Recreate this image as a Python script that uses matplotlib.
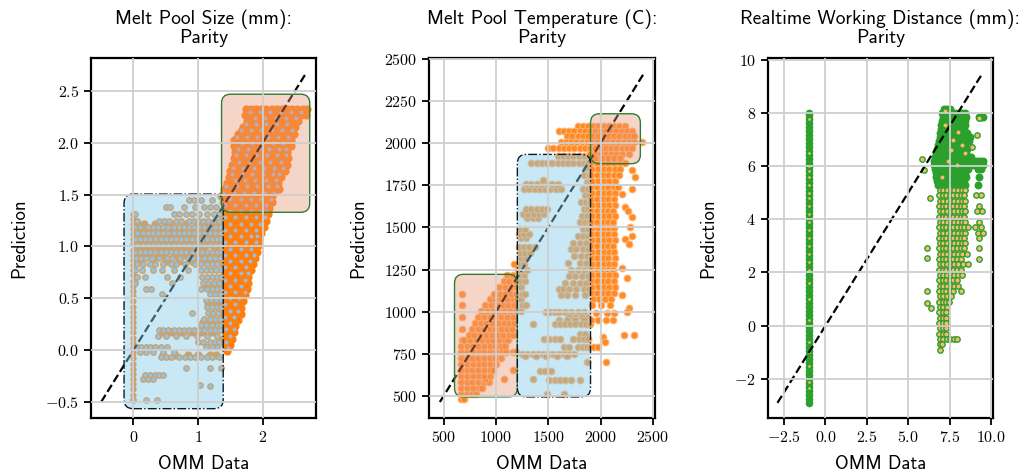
import matplotlib.pyplot as plt
from matplotlib.patches import FancyBboxPatch
from matplotlib.colors import to_rgba
from matplotlib.ticker import FixedLocator, FuncFormatter

# ---------------- Melt Pool Size (mm) ----------------
size_line = [-0.5, 2.66]
size_xticks = [0, 1, 2]
size_yticks = [-0.5, 0.0, 0.5, 1.0, 1.5, 2.0, 2.5]

# solid orange points (full data)
size_full_rows = [
    (2.33, [1.74, 1.82, 1.90, 1.98, 2.06, 2.14, 2.22, 2.30, 2.38, 2.46, 2.54, 2.62, 2.69]),
    (2.27, [1.72, 1.80, 1.88, 1.96, 2.04, 2.12, 2.20, 2.28, 2.36, 2.44, 2.52, 2.60, 2.67]),
    (2.21, [1.76, 1.84, 1.92, 2.00, 2.08, 2.16, 2.24, 2.32, 2.40, 2.48, 2.55]),
    (2.15, [1.70, 1.78, 1.86, 1.94, 2.02, 2.10, 2.18, 2.26, 2.34, 2.42, 2.50]),
    (2.09, [1.62, 1.70, 1.78, 1.86, 1.94, 2.02, 2.10, 2.18, 2.26, 2.34, 2.42, 2.48]),
    (2.03, [1.56, 1.64, 1.72, 1.80, 1.88, 1.96, 2.04, 2.12, 2.20, 2.28, 2.36, 2.44]),
    (1.97, [1.55, 1.63, 1.71, 1.79, 1.87, 1.95, 2.03, 2.11, 2.19, 2.27, 2.35, 2.44]),
    (1.91, [1.58, 1.66, 1.74, 1.82, 1.90, 1.98, 2.06, 2.14, 2.22, 2.30, 2.38]),
    (1.85, [1.55, 1.63, 1.71, 1.79, 1.87, 1.95, 2.03, 2.11, 2.19, 2.27, 2.35, 2.40]),
    (1.79, [1.52, 1.60, 1.68, 1.76, 1.84, 1.92, 2.00, 2.08, 2.16, 2.24, 2.32, 2.38]),
    (1.73, [1.50, 1.58, 1.66, 1.74, 1.82, 1.90, 1.98, 2.06, 2.14, 2.22, 2.30, 2.35]),
    (1.67, [1.48, 1.56, 1.64, 1.72, 1.80, 1.88, 1.96, 2.04, 2.12, 2.20, 2.28]),
    (1.61, [1.45, 1.53, 1.61, 1.69, 1.77, 1.85, 1.93, 2.01, 2.09, 2.17, 2.24]),
    (1.55, [1.40, 1.48, 1.56, 1.64, 1.72, 1.80, 1.88, 1.96, 2.04, 2.12, 2.20, 2.25]),
    (1.49, [1.35, 1.43, 1.51, 1.59, 1.67, 1.75, 1.83, 1.91, 1.99, 2.07, 2.15]),
    (1.43, [1.38, 1.46, 1.54, 1.62, 1.70, 1.78, 1.86, 1.94, 2.02, 2.10, 2.15]),
    (1.37, [1.42, 1.50, 1.58, 1.66, 1.74, 1.82, 1.90, 1.98, 2.06, 2.10]),
    (1.31, [1.38, 1.46, 1.54, 1.62, 1.70, 1.78, 1.86, 1.94, 2.02, 2.08]),
    (1.25, [1.42, 1.50, 1.58, 1.66, 1.74, 1.82, 1.90, 1.98, 2.06]),
    (1.19, [1.38, 1.46, 1.54, 1.62, 1.70, 1.78, 1.86, 1.94, 2.02]),
    (1.13, [1.42, 1.50, 1.58, 1.66, 1.74, 1.82, 1.90, 1.98]),
    (1.07, [1.38, 1.46, 1.54, 1.62, 1.70, 1.78, 1.86, 1.94]),
    (1.01, [1.42, 1.50, 1.58, 1.66, 1.74, 1.82, 1.90, 1.95]),
    (0.95, [1.38, 1.46, 1.54, 1.62, 1.70, 1.78, 1.86, 1.92]),
    (0.89, [1.42, 1.50, 1.58, 1.66, 1.74, 1.82, 1.88]),
    (0.83, [1.38, 1.46, 1.54, 1.62, 1.70, 1.78, 1.85]),
    (0.77, [1.42, 1.50, 1.58, 1.66, 1.74, 1.82]),
    (0.71, [1.38, 1.46, 1.54, 1.62, 1.70, 1.78]),
    (0.65, [1.42, 1.50, 1.58, 1.66, 1.74, 1.78]),
    (0.59, [1.38, 1.46, 1.54, 1.62, 1.70, 1.76]),
    (0.53, [1.42, 1.50, 1.58, 1.66, 1.73]),
    (0.47, [1.38, 1.46, 1.54, 1.62, 1.70]),
    (0.41, [1.42, 1.50, 1.58, 1.66]),
    (0.35, [1.38, 1.46, 1.54, 1.62, 1.66]),
    (0.29, [1.42, 1.50, 1.58, 1.62]),
    (0.23, [1.38, 1.46, 1.54, 1.58]),
    (0.17, [1.42, 1.50, 1.55]),
    (0.11, [1.38, 1.46, 1.52]),
    (0.05, [1.42, 1.49]),
    (-0.01, [1.45]),
    # dense band inside the low box
    (1.22, [0.07, 0.16, 0.34, 0.50, 0.58, 0.82, 0.98, 1.06, 1.14, 1.22, 1.30]),
    (1.16, [0.04, 0.12, 0.20, 0.28, 0.44, 0.60, 0.68, 0.76, 0.90, 1.00, 1.08, 1.24, 1.32]),
    (1.10, [0.06, 0.14, 0.22, 0.30, 0.38, 0.46, 0.54, 0.62, 0.70, 0.78, 0.86, 0.94, 1.02, 1.18, 1.34]),
    (1.04, [0.04, 0.12, 0.20, 0.28, 0.36, 0.44, 0.52, 0.60, 0.68, 0.76, 0.84, 0.92, 1.00, 1.16, 1.30]),
    (0.98, [0.06, 0.14, 0.22, 0.30, 0.38, 0.46, 0.54, 0.62, 0.70, 0.78, 0.86, 0.94, 1.02, 1.10, 1.26]),
    (0.92, [0.08, 0.16, 0.24, 0.36, 0.48, 0.64, 0.78, 0.88, 0.96, 1.06, 1.14, 1.22, 1.30]),
    (0.86, [0.10, 0.30, 0.50, 0.70, 0.90, 1.10, 1.18, 1.26, 1.34]),
    (0.62, [1.12, 1.20, 1.28, 1.35]),
    (0.45, [1.16, 1.24, 1.32]),
    (0.27, [1.08, 1.16, 1.24, 1.32]),
    (0.17, [0.44, 0.58, 0.74, 0.90, 1.06, 1.22]),
    (-0.05, [0.46, 0.64, 0.84, 1.00, 1.18, 1.28]),
]
size_col_x = 0.0
size_col_y = [-0.48, -0.43, -0.38, -0.33, -0.28, -0.23, -0.18, -0.13, -0.08, -0.03,
              0.02, 0.07, 0.12, 0.17, 0.22, 0.27, 0.32, 0.37, 0.42, 0.47, 0.52,
              0.57, 0.62, 0.67, 0.72, 0.77, 0.82, 0.87, 0.92, 0.97, 1.02, 1.07,
              1.12, 1.17, 1.22, 1.27, 1.31]

# light blue points with orange rim (subset)
size_sample_rows = [
    (2.30, [1.80, 1.96, 2.12, 2.28, 2.44, 2.60]),
    (2.24, [1.88, 2.04, 2.20, 2.36, 2.52]),
    (2.18, [1.74, 1.90, 2.06, 2.22, 2.38]),
    (2.12, [1.66, 1.82, 1.98, 2.14, 2.30, 2.46]),
    (2.06, [1.60, 1.76, 1.92, 2.08, 2.24, 2.40]),
    (2.00, [1.68, 1.84, 2.00, 2.16, 2.32]),
    (1.94, [1.62, 1.78, 1.94, 2.10, 2.26, 2.36]),
    (1.88, [1.59, 1.75, 1.91, 2.07, 2.23, 2.37]),
    (1.82, [1.64, 1.80, 1.96, 2.12, 2.28]),
    (1.76, [1.54, 1.70, 1.86, 2.02, 2.18, 2.32]),
    (1.70, [1.52, 1.68, 1.84, 2.00, 2.16, 2.26]),
    (1.64, [1.57, 1.73, 1.89, 2.05, 2.21]),
    (1.58, [1.44, 1.60, 1.76, 1.92, 2.08, 2.22]),
    (1.52, [1.39, 1.55, 1.71, 1.87, 2.03, 2.17]),
    (1.46, [1.50, 1.66, 1.82, 1.98, 2.13]),
    (1.40, [1.42, 1.58, 1.74, 1.90, 2.06]),
    (1.34, [1.50, 1.66, 1.82, 1.98, 2.06]),
    (1.28, [1.42, 1.58, 1.74, 1.90, 2.04]),
    (1.22, [1.50, 1.66, 1.82, 1.96]),
    (1.16, [1.42, 1.58, 1.74, 1.90]),
    (1.10, [1.50, 1.66, 1.82, 1.92]),
    (1.04, [1.42, 1.58, 1.74, 1.90]),
    (0.98, [1.50, 1.66, 1.82]),
    (0.92, [1.42, 1.58, 1.74, 1.86]),
    (0.86, [1.50, 1.66, 1.80]),
    (0.80, [1.42, 1.58, 1.74]),
    (0.74, [1.50, 1.66, 1.78]),
    (0.68, [1.42, 1.58, 1.72]),
    (0.62, [1.50, 1.66]),
    (0.56, [1.42, 1.58, 1.72]),
    (0.50, [1.50, 1.64]),
    (0.44, [1.42, 1.58]),
    (0.38, [1.50, 1.62]),
    (0.32, [1.42, 1.56]),
    (0.26, [1.50]),
    (0.20, [1.44, 1.56]),
    (0.14, [1.50]),
    (0.08, [1.44]),
    (0.02, [1.47]),
    (1.45, [0.86, 0.93, 1.05, 1.22]),
    (1.38, [0.50, 0.57, 0.78, 0.95, 1.10, 1.18, 1.28]),
    (1.31, [0.02, 0.62, 0.70, 0.82, 0.90, 1.02, 1.14, 1.24, 1.33]),
    (1.25, [0.05, 0.40, 0.48, 0.55, 0.66, 0.74, 0.86, 0.94, 1.00, 1.08, 1.16, 1.24, 1.32]),
    (1.19, [0.02, 0.10, 0.22, 0.30, 0.38, 0.46, 0.54, 0.62, 0.70, 0.78, 0.86, 0.94, 1.02, 1.10, 1.18, 1.26, 1.34]),
    (1.13, [0.06, 0.14, 0.22, 0.30, 0.38, 0.46, 0.54, 0.62, 0.70, 0.78, 0.86, 0.94, 1.02, 1.10, 1.18, 1.26, 1.34]),
    (1.07, [0.02, 0.10, 0.18, 0.26, 0.34, 0.42, 0.50, 0.58, 0.66, 0.74, 0.82, 0.90, 0.98, 1.06, 1.14, 1.22, 1.30, 1.36]),
    (1.01, [0.06, 0.14, 0.22, 0.30, 0.38, 0.46, 0.54, 0.62, 0.70, 0.78, 0.86, 0.94, 1.02, 1.10, 1.18, 1.26, 1.34]),
    (0.95, [0.02, 0.10, 0.18, 0.26, 0.34, 0.42, 0.50, 0.58, 0.66, 0.74, 0.82, 0.90, 0.98, 1.06, 1.14, 1.22, 1.30, 1.36]),
    (0.89, [0.04, 0.12, 0.20, 0.28, 0.40, 0.52, 0.60, 0.72, 0.84, 0.92, 1.00, 1.10, 1.18, 1.26, 1.34]),
    (0.83, [0.06, 0.14, 0.26, 0.34, 0.46, 0.58, 0.66, 0.80, 0.95, 1.05, 1.14, 1.22, 1.30]),
    (0.77, [0.02, 0.13, 0.30, 0.44, 0.62, 0.85, 1.04, 1.12, 1.20, 1.28, 1.35]),
    (0.71, [0.06, 0.18, 0.52, 0.72, 1.06, 1.14, 1.22, 1.30, 1.36]),
    (0.65, [0.02, 0.60, 1.08, 1.16, 1.24, 1.32]),
    (0.59, [0.20, 0.27, 1.04, 1.14, 1.22, 1.30, 1.36]),
    (0.54, [0.44, 1.18, 1.26, 1.34]),
    (0.48, [1.12, 1.20, 1.28, 1.35]),
    (0.42, [1.14, 1.22, 1.30, 1.36]),
    (0.36, [0.90, 1.15, 1.23, 1.31]),
    (0.30, [1.10, 1.18, 1.26, 1.34]),
    (0.24, [1.05, 1.13, 1.21, 1.29, 1.36]),
    (0.19, [0.40, 0.46, 0.54, 0.62, 0.70, 0.78, 0.86, 0.94, 1.02, 1.10, 1.18, 1.26, 1.34]),
    (0.14, [0.38, 0.50, 0.66, 0.82, 0.98, 1.14, 1.30]),
    (0.08, [1.00, 1.08, 1.18, 1.26, 1.32]),
    (0.03, [0.05, 0.12, 0.19, 0.26, 0.34, 0.42, 0.52, 1.12, 1.22, 1.30]),
    (-0.02, [0.10, 0.20, 0.30, 0.45, 0.62]),
    (-0.07, [0.42, 0.50, 0.58, 0.70, 0.80, 0.88, 0.96, 1.04, 1.14, 1.22, 1.32]),
    (-0.17, [0.82, 1.18, 1.35]),
    (-0.24, [0.18, 0.26, 0.33, 0.40, 0.46]),
    (-0.28, [0.15, 0.22, 0.30]),
    (-0.34, [1.03]),
    (-0.35, [1.18]),
    (-0.48, [0.0, 0.20, 0.36]),
]

# ---------------- Melt Pool Temperature (C) ----------------
temp_line = [465, 2410]
temp_xticks = [500, 1000, 1500, 2000, 2500]
temp_yticks = [500, 750, 1000, 1250, 1500, 1750, 2000, 2250, 2500]

temp_rows = [
    # low diagonal band
    (480, [665, 700]),
    (515, [665, 720, 775, 810]),
    (550, [670, 725, 780, 835, 870]),
    (585, [665, 720, 775, 830, 885, 930]),
    (600, [900, 1080]),
    (620, [670, 725, 780, 835, 890, 940]),
    (655, [665, 720, 775, 830, 885, 940, 975, 1165]),
    (690, [670, 725, 780, 835, 890, 945, 1000]),
    (725, [665, 720, 775, 830, 885, 940, 995, 1050]),
    (760, [670, 725, 780, 835, 890, 945, 1000, 1055, 1100, 1160, 1190]),
    (795, [665, 720, 775, 830, 885, 940, 995, 1050, 1090]),
    (830, [675, 700, 755, 810, 865, 920, 975, 1030, 1085, 1120]),
    (865, [740, 795, 850, 905, 960, 1015, 1070, 1125, 1160]),
    (900, [675, 775, 830, 885, 940, 995, 1050, 1105, 1150]),
    (935, [800, 855, 910, 965, 1020, 1075, 1130, 1170]),
    (970, [675, 830, 885, 940, 995, 1050, 1105, 1160]),
    (1005, [860, 915, 970, 1025, 1080, 1135, 1190, 1240]),
    (1040, [675, 900, 955, 1010, 1065, 1120, 1175, 1250, 1290]),
    (1075, [940, 995, 1050, 1105, 1160, 1200, 1240]),
    (1105, [675, 980, 1035, 1090, 1145, 1195, 1245, 1280]),
    (1145, [1030, 1085, 1140, 1190, 1240]),
    (1180, [1075, 1130, 1180, 1235, 1275]),
    (1215, [1110, 1160, 1225, 1270]),
    (1250, [1215, 1260, 1300]),
    (1285, [1170, 1230, 1270]),
    # blue box strands
    (1320, [1240, 1290]),
    (1350, [1230, 1280, 1330]),
    (1385, [1220, 1270, 1320, 1370]),
    (1435, [1240, 1290]),
    (1460, [1220, 1270, 1320]),
    (1490, [1230, 1280]),
    (1555, [1300, 1350, 1400]),
    (1580, [1260, 1310, 1360, 1410, 1460]),
    (1610, [1290, 1340, 1390, 1440, 1490]),
    (1725, [1270, 1320, 1370, 1420, 1470, 1520, 1570, 1620]),
    (1755, [1290, 1340, 1390, 1440, 1490, 1540, 1590]),
    (1780, [1450]),
    (1885, [1340, 1390, 1440, 1490, 1540, 1590, 1640, 1690, 1740, 1790, 1840, 1880]),
    (1925, [1590, 1640, 1690, 1740, 1790, 1840, 1890]),
    (1850, [1860, 1890]),
    (1810, [1845, 1885]),
    (1770, [1870, 1895]),
    (1730, [1830, 1880]),
    (1690, [1850, 1890]),
    (1650, [1810, 1860, 1895]),
    (1610, [1840, 1880]),
    (1570, [1820, 1870]),
    (1530, [1800, 1850, 1890]),
    (1490, [1830, 1880]),
    (1450, [1780, 1830, 1880]),
    (1410, [1740, 1800, 1860]),
    (1370, [1720, 1770, 1830, 1880]),
    (1330, [1750, 1810, 1870]),
    (1290, [1690, 1800, 1860]),
    (1250, [1720, 1780, 1840, 1890]),
    (1210, [1700, 1760, 1820, 1880]),
    (1170, [1660, 1740, 1800, 1860]),
    (1135, [1600, 1640, 1700, 1770, 1840, 1890]),
    (1100, [1620, 1680, 1760, 1850]),
    (1000, [1480, 1520, 1560, 1600, 1660, 1720, 1780, 1840]),
    (970, [1700, 1760, 1820, 1880]),
    (950, [1600, 1680, 1760, 1840]),
    (930, [1350, 1560, 1610, 1660, 1710, 1760, 1810, 1860, 1895]),
    (870, [1800, 1850]),
    (840, [1460, 1510, 1560, 1610, 1740, 1790, 1840, 1880]),
    (790, [1650, 1700, 1780, 1830, 1870]),
    (750, [1250, 1300, 1350, 1400, 1450, 1500, 1550, 1600, 1650, 1700, 1750]),
    (735, [1280, 1380, 1480, 1580, 1680]),
    (700, [1870]),
    (650, [1420, 1470, 1530]),
    (600, [1350]),
    (595, [1510, 1560, 1610, 1660, 1720, 1800]),
    (510, [1490, 1650]),
    # right dense region
    (1880, [1910, 1965, 2020, 2075, 2130, 2185]),
    (1845, [1920, 1975, 2030, 2085, 2140, 2190]),
    (1810, [1910, 1965, 2020, 2075, 2130, 2180]),
    (1775, [1920, 1975, 2030, 2085, 2140]),
    (1740, [1910, 1965, 2020, 2075, 2130, 2170]),
    (1705, [1920, 1975, 2030, 2085, 2140]),
    (1670, [1910, 1965, 2020, 2075, 2130]),
    (1635, [1920, 1975, 2030, 2085, 2140]),
    (1600, [1910, 1965, 2020, 2075, 2120]),
    (1565, [1920, 1975, 2030, 2085, 2135]),
    (1530, [1910, 1965, 2020, 2075, 2120]),
    (1495, [1920, 1975, 2030, 2085, 2130]),
    (1460, [1910, 1965, 2020, 2075, 2130]),
    (1425, [1920, 1975, 2030, 2085, 2140]),
    (1390, [1910, 1965, 2020, 2075, 2120]),
    (1355, [1920, 1975, 2030, 2085, 2130]),
    (1320, [1910, 1965, 2020, 2075, 2140]),
    (1285, [1920, 1975, 2030, 2085, 2130]),
    (1250, [1910, 1965, 2020, 2075, 2120]),
    (1215, [1920, 1975, 2030, 2085, 2140]),
    (1180, [1910, 1965, 2020, 2075, 2130]),
    (1145, [1920, 1975, 2030, 2085, 2140]),
    (1110, [1910, 1965, 2020, 2075, 2130]),
    (1075, [1930, 1985, 2040, 2095]),
    (1040, [1920, 2000, 2090]),
    (990, [1960, 2060, 2130]),
    (950, [1910, 1980, 2050, 2120]),
    # top bands
    (2100, [1780, 1830, 1880, 1930, 1980, 2030, 2080, 2130, 2180, 2230]),
    (2070, [1600, 1650, 1700, 1750, 1800, 1850, 1900, 1950, 2000, 2050, 2100, 2150, 2200, 2250, 2300]),
    (2040, [1680, 1730, 1780, 1830, 1880, 1930, 1980, 2030, 2080, 2130, 2180, 2230, 2280, 2320]),
    (2005, [1620, 1670, 1720, 1770, 1820, 1870, 1920, 1970, 2020, 2070, 2120, 2170, 2220, 2270, 2320, 2400]),
    (1970, [1500, 1550, 1600, 1650, 1700, 1750, 1800, 1850, 1900, 1950, 2000, 2050, 2100, 2150, 2200, 2250, 2300]),
    (1935, [1900, 1950, 2000, 2050, 2100, 2150, 2200, 2270]),
    (1910, [1950, 2010, 2070, 2130, 2190]),
    # scattered outliers on the right
    (1880, [2230]), (1840, [2300]), (1800, [2330]), (1730, [2300]), (1700, [2200]),
    (1620, [2230]), (1600, [2260]), (1560, [2300]), (1500, [2280]), (1450, [2300]),
    (1430, [2230]), (1400, [2270]), (1260, [2200]), (1200, [2250]), (1100, [2200]),
    (1020, [2270]), (1000, [2250]), (860, [2220, 2320]), (850, [2020]), (820, [2040]),
    (790, [1900, 1940, 1980]), (700, [2050]),
]

# ---------------- Realtime Working Distance (mm) ----------------
dist_line = [-2.9, 9.5]
dist_xticks = [-2.5, 0.0, 2.5, 5.0, 7.5, 10.0]
dist_yticks = [-2, 0, 2, 4, 6, 8, 10]

dist_col_x = -1.0
dist_col_y = [-2.9, -2.75, -2.6, -2.45, -2.3, -2.15, -2.0, -1.85, -1.7, -1.55, -1.4,
              -1.25, -1.1, -0.95, -0.8, -0.65, -0.5, -0.35, -0.2, -0.05, 0.1, 0.25,
              0.4, 0.55, 0.7, 0.85, 1.0, 1.15, 1.3, 1.45, 1.6, 1.75, 1.9, 2.05, 2.2,
              2.35, 2.5, 2.65, 2.8, 2.95, 3.1, 3.25, 3.4, 3.55, 3.7, 3.85, 4.0, 4.15,
              4.3, 4.45, 4.6, 4.75, 4.9, 5.05, 5.2, 5.35, 5.5, 5.65, 5.8, 5.95, 6.1,
              6.25, 6.4, 6.55, 6.7, 6.85, 7.0, 7.15, 7.3, 7.45, 7.6, 7.75, 7.9, 8.0]
dist_col_sample_y = [7.75, 6.5, 6.0, 5.8, 5.6, 5.3, 5.0, 4.8, 4.5, 4.2, 3.9, 3.6, 3.3,
                     3.0, 2.7, 2.4, 2.1, 1.6, 1.0, 0.2, -0.6, -1.0, -1.5, -2.1, -2.35]

# solid green points (full data)
dist_full_rows = [
    (8.15, [7.15, 7.35, 7.55]),
    (8.00, [7.05, 7.25, 7.45, 7.65, 7.85, 8.05, 8.25, 8.45]),
    (7.85, [7.10, 7.30, 7.50, 7.70, 7.90, 8.10, 8.30, 8.50, 9.25, 9.40, 9.50]),
    (7.70, [7.05, 7.25, 7.45, 7.65, 7.85, 8.05, 8.25, 8.45]),
    (7.55, [7.00, 7.20, 7.40, 7.60, 7.80, 8.00, 8.20, 8.40]),
    (7.40, [6.95, 7.15, 7.35, 7.55, 7.75, 7.95, 8.15, 8.35]),
    (7.25, [6.90, 7.10, 7.30, 7.50, 7.70, 7.90, 8.10, 8.30, 8.55]),
    (7.10, [6.90, 7.10, 7.30, 7.50, 7.70, 7.90, 8.10, 8.30, 8.55, 8.75]),
    (6.95, [6.85, 7.05, 7.25, 7.45, 7.65, 7.85, 8.05, 8.25, 8.45, 8.65]),
    (6.80, [6.80, 7.00, 7.20, 7.40, 7.60, 7.80, 8.00, 8.20, 8.40]),
    (6.65, [6.75, 6.95, 7.15, 7.35, 7.55, 7.75, 7.95, 8.15, 8.35, 8.55]),
    (6.50, [6.70, 6.90, 7.10, 7.30, 7.50, 7.70, 7.90, 8.10, 8.30, 8.50]),
    (6.35, [6.60, 6.80, 7.00, 7.20, 7.40, 7.60, 7.80, 8.00, 8.20, 8.40, 8.60, 8.80]),
    (6.20, [6.55, 6.75, 6.95, 7.15, 7.35, 7.55, 7.75, 7.95, 8.15, 8.35, 8.55, 8.75, 8.95, 9.15, 9.35, 9.50]),
    (6.05, [6.55, 6.75, 6.95, 7.15, 7.35, 7.55, 7.75, 7.95, 8.15, 8.35, 8.55, 8.75, 8.95, 9.15, 9.35, 9.50]),
    (5.90, [6.60, 6.80, 7.00, 7.20, 7.40, 7.60, 7.80, 8.00, 8.20, 8.40, 8.60, 9.20, 9.40]),
    (5.75, [6.65, 6.85, 7.05, 7.25, 7.45, 7.65, 7.85, 8.05, 8.25, 8.45]),
    (5.60, [6.70, 6.90, 7.10, 7.30, 7.50, 7.70, 7.90, 8.10, 8.30, 8.50, 9.30]),
    (5.45, [6.75, 6.95, 7.15, 7.35, 7.55, 7.75, 7.95, 8.15, 8.35]),
    (5.30, [6.80, 7.00, 7.20, 7.40, 7.60, 7.80, 8.00, 8.20, 8.40, 9.20]),
]

# light orange points with green rim (subset)
dist_sample_rows = [
    (8.05, [7.19]), (7.55, [7.19]), (7.29, [8.02]), (6.98, [7.71]), (6.80, [8.23]),
    (6.73, [8.85]), (7.17, [9.17]), (6.47, [8.44]), (6.03, [7.92]), (6.20, [7.40]),
    (7.80, [9.30]), (6.60, [7.60]), (5.60, [7.05]),
    (5.10, [6.90, 7.12, 7.34, 7.56, 7.78, 8.00, 8.22, 8.44]),
    (4.90, [6.85, 7.07, 7.29, 7.51, 7.73, 7.95, 8.17, 8.39, 9.10, 9.40]),
    (4.70, [6.90, 7.12, 7.34, 7.56, 7.78, 8.00, 8.22, 8.44]),
    (4.50, [6.85, 7.07, 7.29, 7.51, 7.73, 7.95, 8.17, 8.39, 9.30]),
    (4.30, [6.90, 7.12, 7.34, 7.56, 7.78, 8.00, 8.22, 8.44, 9.15, 9.45]),
    (4.10, [6.85, 7.07, 7.29, 7.51, 7.73, 7.95, 8.17, 8.39]),
    (3.90, [6.90, 7.12, 7.34, 7.56, 7.78, 8.00, 8.22, 8.44, 9.25]),
    (3.70, [6.85, 7.07, 7.29, 7.51, 7.73, 7.95, 8.17, 8.39, 8.60, 9.05, 9.40]),
    (3.50, [6.90, 7.12, 7.34, 7.56, 7.78, 8.00, 8.22, 8.44, 9.20, 9.50]),
    (3.30, [6.85, 7.07, 7.29, 7.51, 7.73, 7.95, 8.17, 8.39, 9.30]),
    (3.10, [6.90, 7.12, 7.34, 7.56, 7.78, 8.00, 8.22, 8.44]),
    (2.90, [6.85, 7.07, 7.29, 7.51, 7.73, 7.95, 8.17, 8.39, 9.25]),
    (2.70, [6.90, 7.12, 7.34, 7.56, 7.78, 8.00, 8.22, 8.55]),
    (2.50, [6.85, 7.07, 7.29, 7.51, 7.73, 7.95, 8.17, 9.30]),
    (2.30, [6.90, 7.12, 7.34, 7.56, 7.78, 8.00, 8.30, 8.60]),
    (2.10, [6.85, 7.07, 7.29, 7.51, 7.73, 7.95, 8.17]),
    (1.90, [6.90, 7.12, 7.34, 7.56, 7.78, 8.00, 8.25]),
    (1.70, [6.85, 7.07, 7.29, 7.51, 7.73, 7.95]),
    (1.50, [6.90, 7.12, 7.34, 7.56, 7.78, 8.00]),
    (1.30, [6.85, 7.07, 7.29, 7.51, 7.73, 8.20]),
    (1.10, [6.90, 7.12, 7.34, 7.56]),
    (0.90, [6.85, 7.07, 7.29, 7.45]),
    (0.70, [6.90, 7.12, 7.34]),
    (0.50, [6.85, 7.07, 7.29]),
    (0.30, [6.90, 7.12, 7.30]),
    (0.10, [6.85, 7.07, 7.29]),
    (-0.10, [6.90, 7.12, 7.30]),
    (-0.30, [6.85, 7.07, 7.29]),
    (-0.50, [6.90, 7.10, 7.35, 7.55, 7.75, 7.95]),
    (-0.70, [6.90, 7.05]),
    (-0.90, [6.90]),
    (6.25, [5.80]), (5.85, [5.95]), (4.80, [6.30]), (2.90, [6.15]), (2.55, [6.15]),
    (1.30, [6.12]), (0.85, [6.15]), (0.65, [6.35]),
]


def unpack(rows):
    xs = [x for y, row in rows for x in row]
    ys = [y for y, row in rows for x in row]
    return xs, ys


def add_box(ax, x0, y0, x1, y1, r, aspect, face, alpha, edge, ls):
    box = FancyBboxPatch((x0, y0), x1 - x0, y1 - y0,
                         boxstyle=f"round,pad=0,rounding_size={r}",
                         mutation_aspect=aspect,
                         facecolor=to_rgba(face, alpha), edgecolor=edge,
                         linestyle=ls, linewidth=1.0, zorder=2)
    ax.add_patch(box)


def style_axes(ax, title, xticks, yticks, xfmt, yfmt):
    ax.set_title(title, fontsize=14, pad=11, linespacing=0.95)
    ax.set_xlabel('OMM Data', fontsize=13.5, labelpad=7)
    ax.set_ylabel('Prediction', fontsize=13.5, labelpad=12)
    ax.xaxis.set_major_locator(FixedLocator(xticks))
    ax.yaxis.set_major_locator(FixedLocator(yticks))
    ax.xaxis.set_major_formatter(FuncFormatter(lambda v, p: '$' + xfmt.format(v) + '$'))
    ax.yaxis.set_major_formatter(FuncFormatter(lambda v, p: '$' + yfmt.format(v) + '$'))
    ax.tick_params(direction='out', length=5, width=1.3, labelsize=11.5)
    ax.set_axisbelow(False)
    ax.grid(True, color='#cfcfcf', linewidth=1.3)
    for s in ax.spines.values():
        s.set_linewidth(1.6)


plt.rcParams['font.family'] = ['cmss10', 'DejaVu Sans']
plt.rcParams['mathtext.fontset'] = 'cm'

fig, axes = plt.subplots(1, 3, figsize=(10.21, 4.75), dpi=100)
fig.subplots_adjust(left=0.089, right=0.9726, bottom=0.12, top=0.878, wspace=0.502)

orange = '#ff7f0e'
green = '#2ca02c'

# panel 1
ax = axes[0]
fx, fy = unpack(size_full_rows)
ax.scatter(fx, fy, s=24, c=orange, edgecolors=orange, linewidths=1.0, zorder=1)
ax.scatter([size_col_x] * len(size_col_y), size_col_y, s=12, c=orange,
           edgecolors=orange, linewidths=1.0, zorder=1)
sx, sy = unpack(size_sample_rows)
ax.scatter(sx, sy, s=15, c='#9fbbdb', edgecolors=orange, linewidths=1.0, zorder=1.2)
ax.plot(size_line, size_line, 'k--', lw=1.6, zorder=1.5)
add_box(ax, -0.146, -0.566, 1.39, 1.506, 0.14, 0.62, 'skyblue', 0.45, '#0b1b2b', '-.')
add_box(ax, 1.364, 1.33, 2.73, 2.47, 0.14, 0.62, 'darksalmon', 0.4, '#2e7d32', '-')
ax.set_xlim(-0.66, 2.83)
ax.set_ylim(-0.656, 2.82)
style_axes(ax, 'Melt Pool Size (mm):\nParity', size_xticks, size_yticks, '{:.0f}', '{:.1f}')

# panel 2
ax = axes[1]
tx, ty = unpack(temp_rows)
ax.scatter(tx, ty, s=24, c=orange, edgecolors='#ffb77a', linewidths=0.8, alpha=0.9, zorder=1)
ax.plot(temp_line, temp_line, 'k--', lw=1.6, zorder=1.5)
add_box(ax, 605, 495, 1205, 1222, 85, 0.62, 'darksalmon', 0.4, '#2e7d32', '-')
add_box(ax, 1205, 495, 1904, 1933, 85, 0.62, 'skyblue', 0.45, '#0b1b2b', '-.')
add_box(ax, 1904, 1878, 2380, 2174, 85, 0.62, 'darksalmon', 0.4, '#2e7d32', '-')
ax.set_xlim(364, 2516)
ax.set_ylim(370, 2505)
style_axes(ax, 'Melt Pool Temperature (C):\nParity', temp_xticks, temp_yticks, '{:.0f}', '{:.0f}')

# panel 3
ax = axes[2]
gx, gy = unpack(dist_full_rows)
ax.scatter(gx, gy, s=22, c=green, edgecolors=green, linewidths=1.0, zorder=1)
ax.scatter([dist_col_x] * len(dist_col_y), dist_col_y, s=20, c=green,
           edgecolors=green, linewidths=1.0, zorder=1)
ox, oy = unpack(dist_sample_rows)
ax.scatter(ox, oy, s=15, c='#f8b970', edgecolors=green, linewidths=1.0, zorder=1.2)
ax.scatter([dist_col_x] * len(dist_col_sample_y), dist_col_sample_y, s=5, c='#f8b970',
           edgecolors=green, linewidths=0.3, zorder=1.2)
ax.plot(dist_line, dist_line, 'k--', lw=1.6, zorder=1.5)
ax.set_xlim(-3.49, 10.12)
ax.set_ylim(-3.47, 10.06)
style_axes(ax, 'Realtime Working Distance (mm):\nParity', dist_xticks, dist_yticks, '{:.1f}', '{:.0f}')

fig.savefig('out.png', dpi=100)
